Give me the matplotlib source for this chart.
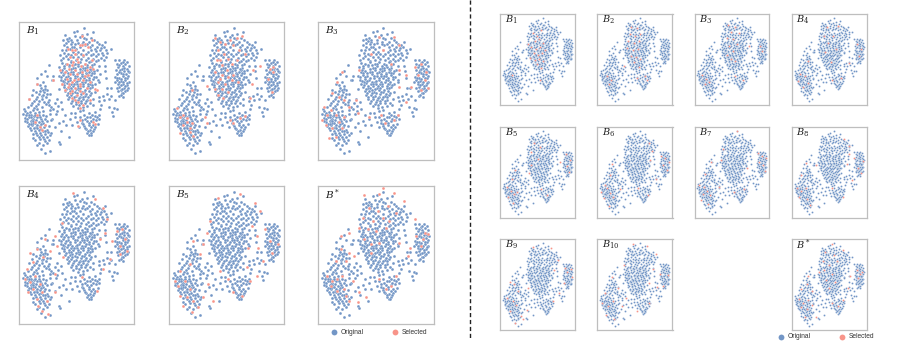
# -*- coding: utf-8 -*-
import matplotlib
matplotlib.use("Agg")
import matplotlib.pyplot as plt
from matplotlib.lines import Line2D

W, H = 904, 345
BLUE = "#7396C6"
RED = "#F89489"

# point positions, in units of a 3x crop
upper_lobe = [(252,84),(232,92),(278,95),(196,104),(222,96),(245,105),(262,100),(274,112),(208,112),(190,120),
    (205,122),(216,126),(232,118),(248,124),(268,126),(283,118),(296,130),(315,126),(305,135),(192,135),
    (186,150),(180,165),(200,140),(215,140),(225,132),(240,140),(255,135),(270,140),(285,145),(300,150),
    (318,148),(332,146),(322,158),(308,165),(295,160),(280,160),(265,155),(250,150),(235,155),(220,155),
    (205,160),(190,172),(205,175),(220,170),(235,170),(250,168),(265,172),(280,175),(295,178),(312,178),
    (318,170),(212,132),(258,116),(291,139),(228,146),(243,160),(272,150),(197,150),(288,168),(303,143)]
upper_fill = [(201,116),(214,118),(239,111),(226,108),(252,113),(199,129),(210,147),(222,139),(234,127),(247,132),
    (262,131),(277,133),(290,124),(193,158),(213,164),(229,162),(257,160),(273,163),(287,153),(302,172),
    (198,167),(183,178),(212,181),(228,178),(243,176),(258,179),(272,182),(287,183),(305,157),(312,140)]
main_core = [(185,188),(198,192),(212,186),(226,190),(240,184),(254,192),(268,186),(282,190),(296,196),(178,200),
    (192,203),(206,198),(220,202),(234,197),(248,204),(262,199),(276,203),(290,208),(314,198),(184,214),
    (198,212),(212,216),(226,210),(240,215),(254,209),(268,214),(282,218),(300,222),(316,212),(176,226),
    (190,224),(204,228),(218,222),(232,227),(246,222),(260,228),(274,224),(288,230),(182,238),(196,236),
    (210,240),(224,234),(238,239),(252,234),(266,240),(280,236),(295,238),(186,250),(200,248),(214,252),
    (228,246),(242,251),(256,246),(270,252),(284,250),(176,266),(192,260),(206,263),(220,258),(234,263),
    (248,258),(262,264),(276,260),(196,274),(210,272),(224,276),(238,270),(252,275),(266,272),(284,276),
    (200,286),(214,284),(228,289),(242,283),(256,288),(270,286),(205,298),(220,296),(234,300),(248,296),
    (262,299),(280,296),(212,310),(228,312),(242,308),(256,310),(235,324),(248,322),(262,318),(207,194),
    (245,228),(217,268),(231,252),(259,218),(193,244),(273,208),(240,292),(226,204),(203,218),(265,250)]
core_fill = [(191,196),(219,195),(233,191),(247,197),(261,193),(275,195),(187,208),(213,207),(241,206),(255,203),
    (269,207),(283,211),(191,218),(219,215),(233,219),(247,212),(261,222),(275,217),(183,230),(197,230),(211,232),
    (225,228),(239,232),(253,228),(267,232),(281,229),(189,243),(203,243),(217,246),(231,241),(245,245),(259,240),
    (273,244),(193,254),(207,256),(221,252),(235,257),(249,252),(263,256),(277,254),(199,267),(213,262),(227,267),
    (241,264),(255,268),(269,264),(203,280),(217,278),(231,280),(245,277),(259,281),(273,279),(207,291),(222,291),
    (236,294),(250,290),(264,292),(215,304),(229,305),(243,302),(257,304),(271,308),(220,318),(236,316),(250,330)]
right_lobe = [(345,180),(358,178),(372,180),(382,184),(350,190),(364,188),(376,192),(386,198),(354,200),(368,198),
    (380,206),(348,210),(360,208),(372,212),(388,216),(352,220),(364,218),(378,222),(346,230),(358,232),
    (370,228),(382,234),(350,240),(362,242),(376,240),(386,246),(354,250),(368,252),(380,254),(358,260),
    (372,262),(384,264),(362,270),(376,272),(366,280),(358,288),(370,290),(344,246),(350,264),(365,206)]
right_fill = [(368,184),(357,194),(371,204),(383,212),(358,214),(370,220),(384,226),(352,234),(364,236),(376,233),
    (356,245),(370,246),(381,248),(362,255),(374,257),(367,266),(380,268),(354,272),(370,278),(362,284)]
left_mid = [(146,193),(123,220),(140,226),(160,228),(110,252),(128,244),(155,240),(124,262),(136,258),(108,276),
    (120,272),(132,276),(142,270),(96,284),(112,290),(126,288),(138,292),(88,298),(102,304),(118,302),
    (132,306),(148,300),(170,298),(92,316),(108,318),(126,320),(146,316),(164,310),(182,306),(160,326),
    (186,326),(112,232),(100,268),(150,283),(135,212)]
left_fill = [(128,268),(116,282),(130,284),(140,282),(125,296),(108,296),(96,310),(114,311),(138,312),(154,322),
    (172,332),(120,254),(134,266),(145,306),(102,325)]
lower_left = [(72,326),(84,322),(98,330),(112,328),(70,342),(80,338),(92,344),(104,340),(118,344),(130,334),
    (76,354),(88,352),(100,356),(112,352),(124,358),(138,348),(150,342),(80,366),(92,364),(104,368),(116,366),
    (128,370),(142,364),(156,356),(84,378),(96,376),(108,380),(120,378),(132,382),(146,378),(92,390),(104,392),
    (116,390),(128,394),(140,390),(98,402),(112,404),(124,406),(136,402),(150,404),(106,420),(120,418),(132,416),
    (146,420),(112,434),(128,436),(140,430),(176,426),(180,432),(136,460),(150,452),(124,448),(86,346),(96,360),
    (110,374),(134,356),(74,334),(120,398),(154,398),(100,415)]
lower_fill = [(78,346),(90,336),(102,348),(116,336),(82,358),(94,350),(108,360),(120,352),(130,346),(86,372),(98,370),
    (112,384),(124,372),(136,374),(90,384),(102,384),(122,386),(134,392),(108,398),(128,412),(140,410),(116,412),
    (144,396),(118,428),(136,424),(104,346),(92,372),(76,362),(100,364),(126,362)]
lower_mid = [(240,332),(252,344),(268,340),(284,336),(240,352),(254,356),(270,350),(284,348),(296,346),(232,366),
    (246,368),(260,364),(274,362),(288,360),(298,358),(238,380),(252,378),(266,376),(280,374),(294,372),(258,388),
    (270,390),(282,386),(262,400),(274,398),(268,406),(226,352),(250,372)]
mid_fill = [(276,345),(262,352),(278,356),(290,352),(266,370),(254,384),(274,382),(286,380),(264,394),(278,392),(245,360),(272,404)]
mid_scatter = [(296,292),(308,288),(320,282),(334,288),(298,304),(312,300),(326,298),(304,316),(328,322),(342,324),
    (336,336),(350,326),(322,262),(332,264),(340,348),(300,328),(278,316),(345,300),(152,360),(168,342),
    (176,368),(196,344),(212,340),(198,376),(216,376),(182,394),(206,412),(166,382),(190,362),(210,356),
    (150,330),(174,318),(224,338),(158,238),(296,244),(318,232)]

# selected points per panel, left group
sel_l1 = [(205,145),(215,150),(225,160),(240,135),(255,130),(265,140),(210,170),(230,175),(250,165),(275,180),
    (200,190),(215,195),(235,185),(255,190),(270,200),(195,215),(210,220),(225,210),(245,215),(265,225),(280,205),
    (200,235),(215,245),(235,235),(250,240),(270,245),(185,250),(205,260),(225,262),(240,258),(260,262),(285,265),
    (195,270),(210,280),(230,285),(250,280),(215,295),(235,305),(250,315),(240,325),(270,300),(290,270),(180,210),
    (160,240),(110,250),(88,298),(110,345),(105,365),(120,380),(135,375),(125,390),(240,360),(235,378),(280,365),
    (285,372),(245,108),(275,118),(220,185),(242,198),(208,205),(232,222),(254,226),(222,240),(240,250),(208,250),
    (260,208),(215,272),(240,272),(225,300),(245,135),(225,148)]
sel_l2 = [(195,112),(210,125),(225,130),(240,118),(260,112),(275,108),(205,150),(222,160),(250,135),(268,150),
    (285,160),(200,180),(215,195),(235,175),(260,180),(195,215),(215,225),(230,210),(250,225),(205,245),(225,250),
    (245,240),(265,245),(195,265),(215,265),(235,275),(205,285),(220,295),(310,210),(305,250),(172,258),(360,205),
    (370,215),(355,235),(365,275),(300,295),(80,325),(90,350),(110,355),(125,368),(100,375),(90,400),(120,395),
    (130,408),(165,352),(170,368),(240,360),(250,368),(270,355),(285,348),(330,198),(125,270),(370,200),(100,345),
    (110,365),(120,385),(210,235),(235,230),(210,180),(245,190)]
sel_l3 = [(240,110),(285,110),(250,150),(300,135),(215,160),(275,190),(178,210),(300,210),(300,260),(128,215),
    (115,245),(100,280),(75,320),(85,345),(95,330),(110,345),(70,360),(80,375),(100,385),(120,365),(135,350),
    (130,385),(110,410),(90,415),(150,320),(175,340),(135,300),(120,290),(170,300),(245,345),(258,370),(285,360),
    (295,345),(345,200),(365,190),(380,215),(355,225),(375,240),(385,262),(365,270),(320,225),(335,260),(320,305),(210,350)]
sel_l4 = [(220,85),(285,105),(310,130),(185,175),(320,165),(315,205),(165,215),(170,245),(300,225),(335,230),(350,200),
    (365,195),(375,225),(360,245),(380,260),(360,270),(330,285),(135,225),(110,255),(90,265),(100,295),(130,280),
    (150,260),(80,315),(75,345),(90,355),(105,335),(120,360),(100,375),(85,385),(125,385),(110,405),(140,410),(125,440),
    (145,450),(115,425),(165,330),(165,385),(245,340),(290,380),(310,315),(190,280)]
sel_l5 = [(205,100),(270,90),(315,115),(330,140),(180,170),(305,185),(320,215),(170,205),(160,240),(295,250),(325,250),
    (345,195),(360,230),(385,240),(365,265),(340,290),(130,230),(150,270),(120,300),(90,320),(75,350),(85,365),(105,350),
    (120,375),(90,395),(110,400),(130,410),(100,425),(125,445),(145,430),(160,400),(175,360),(190,410),(235,345),(250,385),
    (275,395),(300,350),(320,335),(210,320),(290,310)]
sel_ls = [(250,72),(195,92),(240,90),(285,85),(315,110),(210,130),(235,140),(265,125),(290,145),(190,160),(220,170),(250,160),
    (270,170),(180,190),(205,195),(230,200),(260,190),(195,225),(215,240),(240,235),(215,265),(300,235),(150,205),(125,215),
    (125,255),(150,265),(165,275),(140,290),(110,290),(85,335),(100,350),(115,345),(130,335),(95,365),(115,380),(135,375),
    (160,350),(140,395),(150,410),(180,385),(175,415),(200,400),(240,345),(260,375),(275,365),(290,335),(325,275),(330,250),
    (350,215),(375,205),(385,210),(370,225),(365,245),(345,165)]

# selected points per panel, right group
sel_r1 = [(205,150),(225,165),(245,140),(215,190),(235,180),(255,195),(200,215),(220,225),(240,215),(262,230),(210,245),
    (230,250),(250,245),(195,265),(215,275),(235,270),(255,280),(225,295),(245,310),(185,200),(110,345),(240,365)]
sel_r2 = [(210,125),(240,130),(205,155),(230,165),(255,155),(200,190),(225,195),(250,190),(195,220),(220,230),(245,225),
    (210,255),(235,260),(255,270),(225,285),(180,300),(250,305),(100,350),(120,365),(110,385),(240,355),(275,350),(285,365)]
sel_r3 = [(210,115),(245,125),(225,145),(260,150),(205,175),(235,180),(255,200),(215,210),(235,235),(205,250),(225,270),
    (245,280),(360,210),(370,235),(90,345),(110,360),(105,385),(125,375),(245,350),(280,365),(310,210)]
sel_r4 = [(220,125),(270,120),(205,165),(245,165),(225,195),(260,225),(210,240),(235,285),(130,280),(95,340),(115,350),
    (85,370),(130,380),(110,400),(240,365),(285,355),(355,200),(375,225),(365,255),(320,290)]
sel_r5 = [(210,140),(240,155),(200,180),(230,210),(200,240),(190,275),(125,260),(110,300),(85,340),(105,355),(120,370),
    (90,385),(135,360),(115,410),(245,350),(270,375),(360,190),(378,215),(365,245),(372,270),(330,225)]
sel_r6 = [(295,140),(310,175),(300,215),(125,235),(115,285),(90,330),(100,345),(75,360),(115,365),(85,390),(130,385),
    (110,425),(160,350),(245,345),(290,375),(350,195),(370,205),(385,225),(360,240),(378,260),(325,300)]
sel_r7 = [(255,85),(190,165),(180,215),(300,250),(135,225),(105,280),(80,330),(100,340),(95,370),(115,355),(130,375),(85,400),
    (120,415),(170,340),(240,360),(285,350),(350,185),(368,195),(385,205),(355,225),(372,240),(380,265)]
sel_r8 = [(295,120),(320,150),(320,190),(310,235),(170,240),(120,230),(100,285),(80,345),(100,355),(120,345),(90,385),(125,395),
    (140,420),(240,345),(290,385),(345,205),(385,220),(360,250),(375,275),(335,305)]
sel_r9 = [(205,100),(290,105),(320,160),(305,205),(185,290),(120,270),(140,300),(100,260),(85,335),(115,350),(130,365),(100,395),
    (150,415),(125,450),(160,430),(180,390),(300,350),(355,195),(380,200),(385,240),(365,215),(350,265),(325,310)]
sel_r10 = [(220,90),(285,95),(325,135),(180,185),(315,200),(295,265),(125,240),(150,290),(90,310),(80,355),(105,370),(130,350),
    (95,410),(135,430),(170,370),(190,335),(240,395),(295,355),(345,225),(380,230),(360,280),(330,285)]
sel_rs = [(240,90),(290,115),(210,125),(250,140),(200,165),(230,185),(265,165),(205,205),(240,225),(215,250),(255,260),(230,290),
    (180,215),(130,235),(125,270),(150,300),(100,295),(90,340),(110,355),(130,345),(100,375),(125,385),(150,365),(115,420),
    (170,420),(240,355),(270,370),(290,345),(355,205),(370,225),(360,245),(380,215),(315,290),(325,235)]

labels_l = ["$B_1$", "$B_2$", "$B_3$", "$B_4$", "$B_5$", "$B^*$"]
labels_r = ["$B_{%d}$" % i for i in range(1, 11)] + ["$B^*$"]
selected_l = [sel_l1, sel_l2, sel_l3, sel_l4, sel_l5, sel_ls]
selected_r = [sel_r1, sel_r2, sel_r3, sel_r4, sel_r5, sel_r6, sel_r7, sel_r8, sel_r9, sel_r10, sel_rs]

original = (upper_lobe + upper_fill + main_core + core_fill + right_lobe + right_fill + left_mid + left_fill
            + lower_left + lower_fill + lower_mid + mid_fill + mid_scatter)

plt.rcParams["mathtext.fontset"] = "dejavuserif"
plt.rcParams["font.family"] = ["Liberation Sans", "DejaVu Sans"]

fig = plt.figure(figsize=(W / 100, H / 100), dpi=100)


def panel(x0, y0, x1, y1, label, sel, size, fsize):
    """Draw one scatter panel in a box given in image pixels."""
    ax = fig.add_axes([x0 / W, 1 - y1 / H, (x1 - x0) / W, (y1 - y0) / H])
    ax.scatter(*zip(*original), s=size, c=BLUE, edgecolors="white", linewidths=0.15, zorder=2)
    ax.scatter(*zip(*sel), s=size, c=RED, edgecolors="white", linewidths=0.15, zorder=3)
    ax.set_xlim(57, 403)
    ax.set_ylim(480, 65)
    ax.set_xticks([])
    ax.set_yticks([])
    for s in ax.spines.values():
        s.set_color("#BEBEBE")
        s.set_linewidth(0.9)
    ax.text(0.06, 0.94, label, transform=ax.transAxes, fontsize=fsize, ha="left", va="center", color="#222222")


def legend_item(x, y, text):
    fig.add_artist(Line2D([x / W], [1 - y / H], marker="o", ms=4.2, mec="none",
                          mfc=BLUE if text == "Original" else RED, transform=fig.transFigure))
    fig.text((x + 7) / W, 1 - y / H, text, fontsize=4.8, va="center", ha="left", color="#333333")


# left group, 2 x 3
left_x = [(19, 134.5), (169, 284.5), (318, 434)]
left_y = [(22, 160), (186, 324)]
for i in range(6):
    xa, xb = left_x[i % 3]
    ya, yb = left_y[i // 3]
    panel(xa, ya, xb, yb, labels_l[i], selected_l[i], 4.5, 7.5)

# right group, 3 rows of 4 with one gap
right_x = [(500.5, 575.5), (597.5, 672.5), (694.5, 769.5), (792, 867)]
right_y = [(14, 105), (127, 218), (239, 330)]
slots = [(0, 0), (0, 1), (0, 2), (0, 3), (1, 0), (1, 1), (1, 2), (1, 3), (2, 0), (2, 1), (2, 3)]
for i, (r, c) in enumerate(slots):
    xa, xb = right_x[c]
    ya, yb = right_y[r]
    panel(xa, ya, xb, yb, labels_r[i], selected_r[i], 2.0, 7)

fig.add_artist(Line2D([470 / W, 470 / W], [1, 1 - 338 / H], color="#222222", lw=1.0, ls=(0, (3, 2)),
                      transform=fig.transFigure))

legend_item(334, 332, "Original")
legend_item(395, 332, "Selected")
legend_item(781, 337, "Original")
legend_item(842, 337, "Selected")

fig.savefig("out.png", dpi=100, facecolor="white")
